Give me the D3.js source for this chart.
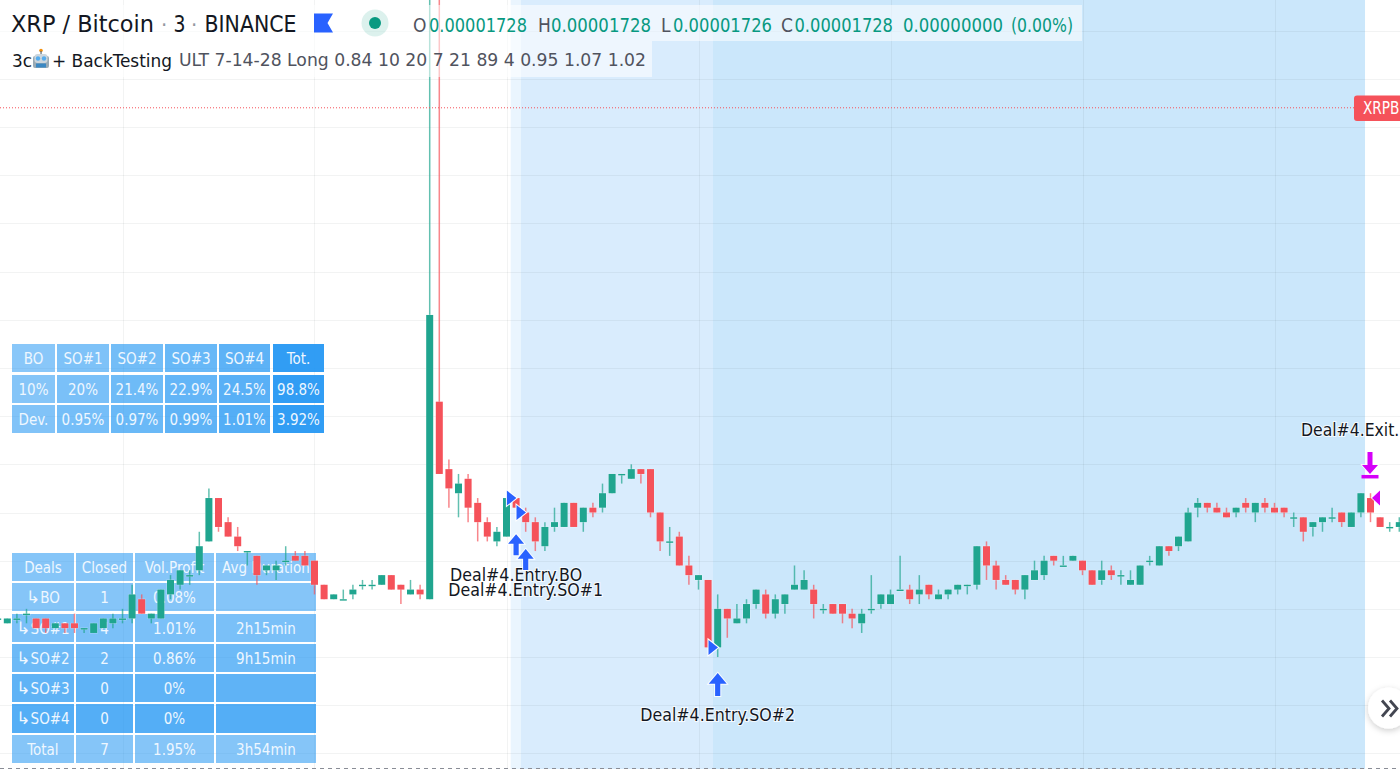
<!DOCTYPE html>
<html lang="en">
<head>
<meta charset="UTF-8">
<title>XRP / Bitcoin 3 BINANCE</title>
<script src="https://d3js.org/d3.v7.min.js"></script>
<style>
  html, body { margin: 0; padding: 0; background: #fff; overflow: hidden; }
  text { font-family: "DejaVu Sans Condensed", "DejaVu Sans", sans-serif; }
</style>
</head>
<body>
<svg id="mainsvg" width="1400" height="770"></svg>
<script>
// prices in satoshi, one entry per 3 minute bar
const opens = [1622,
  1621,1622,1623,1622,1622,1620,1621,1621,1620,1619,
  1620,1621,1622,1622,1626,1622,1622,1627,1629,1631,
  1632,1638,1647,1642,1639,1636,1635,1632,1632,1634,
  1635,1635,1634,1629,1626,1626,1627,1629,1629,1629,
  1631,1629,1627,1628,1626,1667,1653,1648,1651,1646,
  1642,1638,1639,1647,1644,1642,1637,1641,1641,1646,
  1642,1645,1645,1648,1652,1651,1653,1653,1644,1638,
  1639,1633,1630,1630,1616,1624,1621,1622,1625,1627,
  1623,1625,1628,1628,1628,1624,1625,1625,1623,1621,
  1624,1625,1625,1628,1628,1627,1629,1626,1627,1628,
  1629,1629,1637,1633,1630,1630,1628,1630,1631,1635,
  1633,1634,1634,1632,1630,1632,1631,1629,1629,1634,
  1633,1637,1637,1638,1645,1646,1645,1644,1644,1646,
  1644,1646,1645,1645,1643,1643,1641,1642,1643,1644,
  1641,1644,1647,1643,1641,1641];
const highs = [1623,
  1622,1623,1624,1622,1622,1621,1621,1623,1620,1621,
  1622,1623,1624,1629,1627,1623,1628,1631,1632,1632,
  1640,1649,1647,1643,1641,1636,1635,1633,1634,1637,
  1636,1636,1634,1629,1627,1628,1629,1630,1630,1631,
  1631,1629,1630,1629,1755,1755,1655,1652,1652,1647,
  1643,1641,1647,1647,1645,1643,1642,1645,1646,1646,
  1645,1646,1650,1652,1652,1654,1653,1653,1644,1641,
  1640,1635,1631,1630,1627,1624,1625,1626,1628,1628,
  1627,1627,1633,1632,1629,1625,1625,1625,1624,1624,
  1631,1627,1628,1635,1629,1631,1629,1628,1628,1629,
  1629,1637,1638,1634,1631,1630,1631,1634,1635,1635,
  1635,1635,1634,1632,1634,1633,1632,1632,1633,1635,
  1637,1637,1639,1645,1647,1646,1646,1645,1645,1647,
  1646,1647,1646,1645,1644,1643,1642,1643,1645,1644,
  1644,1648,1648,1643,1642,1643];
const lows = [1621,
  1621,1621,1621,1620,1619,1620,1619,1619,1619,1619,
  1620,1620,1621,1621,1623,1621,1622,1626,1628,1629,
  1631,1638,1640,1639,1636,1633,1629,1631,1630,1633,
  1634,1633,1627,1626,1626,1626,1626,1628,1628,1629,
  1628,1625,1627,1626,1626,1652,1645,1643,1642,1638,
  1638,1637,1639,1645,1640,1636,1636,1640,1641,1641,
  1640,1643,1644,1648,1650,1651,1650,1643,1636,1635,
  1633,1629,1628,1616,1614,1618,1621,1621,1624,1622,
  1622,1623,1628,1628,1622,1623,1623,1621,1620,1619,
  1623,1624,1625,1628,1625,1625,1626,1626,1626,1627,
  1627,1628,1630,1628,1629,1627,1626,1630,1630,1633,
  1633,1634,1631,1629,1629,1630,1629,1629,1629,1633,
  1633,1635,1636,1638,1643,1644,1644,1643,1643,1644,
  1642,1644,1644,1643,1641,1638,1639,1640,1642,1641,
  1641,1643,1642,1641,1640,1640];
const closes = [1622,
  1622,1622,1623,1620,1620,1621,1620,1620,1620,1621,
  1622,1622,1622,1627,1623,1623,1628,1630,1632,1631,
  1637,1647,1641,1639,1637,1636,1631,1633,1633,1634,
  1634,1633,1629,1626,1627,1626,1628,1629,1629,1631,
  1628,1628,1628,1627,1685,1652,1649,1650,1645,1642,
  1639,1640,1647,1645,1642,1638,1641,1642,1646,1641,
  1645,1644,1648,1652,1652,1653,1652,1644,1638,1638,
  1633,1631,1631,1616,1624,1622,1622,1625,1628,1623,
  1626,1627,1629,1630,1625,1624,1623,1623,1622,1623,
  1624,1627,1627,1628,1626,1628,1627,1627,1628,1629,
  1629,1637,1633,1630,1629,1628,1631,1632,1634,1634,
  1633,1635,1632,1629,1632,1631,1631,1630,1633,1634,
  1637,1636,1639,1644,1646,1645,1644,1643,1645,1645,
  1646,1645,1644,1644,1643,1640,1642,1643,1643,1642,
  1644,1648,1644,1641,1641,1642];

const lastPrice = 1728;
const priceTicks = d3.range(1594, 1754, 10);
const timeTicks = d3.range(13, 147, 20);

// deal zones, first and last bar
const zoneNames = ['BO', 'SO#1', 'SO#2'];
const zoneStart = [53.44, 54.48, 74.51];
const zoneEnd = [54.48, 74.51, 142.43];

// strategy tables
const sizeHead = ['BO', 'SO#1', 'SO#2', 'SO#3', 'SO#4', 'Tot.'];
const sizeRow1 = ['10%', '20%', '21.4%', '22.9%', '24.5%', '98.8%'];
const sizeRow2 = ['Dev.', '0.95%', '0.97%', '0.99%', '1.01%', '3.92%'];
const dealHead = ['Deals', 'Closed', 'Vol.Profit', 'Avg Duration'];
const dealBO = ['↳BO', '1', '0.08%', ''];
const dealSO1 = ['↳SO#1', '4', '1.01%', '2h15min'];
const dealSO2 = ['↳SO#2', '2', '0.86%', '9h15min'];
const dealSO3 = ['↳SO#3', '0', '0%', ''];
const dealSO4 = ['↳SO#4', '0', '0%', ''];
const dealTotal = ['Total', '7', '1.95%', '3h54min'];

// order marks: bar number and price
const entryBars = [54, 55, 75];
const entryTops = [1639.5, 1636.4, 1610.7];
const entryLabels = ['Deal#4.Entry.BO', 'Deal#4.Entry.SO#1', 'Deal#4.Entry.SO#2'];
const fillBars = [54, 55, 75];
const fillPrices = [1647, 1644, 1616];
const exitBar = 143;
const exitPrice = 1652;
const exitFill = 1647;
const exitLabel = 'Deal#4.Exit.';

const svg = d3.select('#mainsvg');
const width = +svg.attr('width');
const height = +svg.attr('height');
const barCount = opens.length;
const step = 9.6;
const green = '#20a58f';
const red = '#f5525a';

const xScale = d3.scaleLinear().domain([0, barCount - 1]).range([-2.3, -2.3 + (barCount - 1) * step]);
const yScale = d3.scaleLinear().domain([1594, 1744]).range([753.4, 30.7]);

svg.append('rect').attr('width', width).attr('height', height).attr('fill', '#fff');

// zones
const zoneFill = ['#eaf5fe', '#d9ecfd', '#cbe7fb'];
svg.append('g').selectAll('rect').data(zoneNames).join('rect')
  .attr('x', (d, i) => xScale(zoneStart[i]))
  .attr('width', (d, i) => xScale(zoneEnd[i]) - xScale(zoneStart[i]))
  .attr('y', 0).attr('height', 769)
  .attr('fill', (d, i) => zoneFill[i]);

// grid
const grid = svg.append('g').attr('stroke', 'rgba(42,46,57,0.06)').attr('stroke-width', 1);
grid.selectAll('.h').data(priceTicks).join('line').attr('class', 'h')
  .attr('x1', 0).attr('x2', width)
  .attr('y1', d => Math.round(yScale(d)) + 0.5).attr('y2', d => Math.round(yScale(d)) + 0.5);
grid.selectAll('.v').data(timeTicks).join('line').attr('class', 'v')
  .attr('y1', 0).attr('y2', 769)
  .attr('x1', d => Math.round(xScale(d)) + 0.5).attr('x2', d => Math.round(xScale(d)) + 0.5);

// tables sit under the candles
function drawTable(rows, colX, colW, rowY, rowH, alpha) {
  const g = svg.append('g');
  rows.forEach((row, r) => {
    row.forEach((cell, c) => {
      g.append('rect')
        .attr('x', colX[c]).attr('y', rowY[r])
        .attr('width', colW[c]).attr('height', rowH[r])
        .attr('fill', '#2196f3').attr('fill-opacity', alpha(r, c));
      const t = g.append('text')
        .attr('x', colX[c] + colW[c] / 2).attr('y', rowY[r] + rowH[r] / 2 + 5.5)
        .attr('text-anchor', 'middle').attr('font-size', 15)
        .attr('fill', '#eef7ff');
      if (cell[0] === '↳') {
        t.append('tspan').style('font-family', '"DejaVu Sans"').attr('font-size', 17).text('↳');
        t.append('tspan').text(cell.slice(1));
      } else {
        t.text(cell);
      }
    });
  });
}

drawTable([sizeHead, sizeRow1, sizeRow2],
  [12, 57, 111, 165, 219, 273], [43, 52, 52, 52, 51, 51],
  [344, 375, 405], [28, 28, 28],
  (r, c) => c === 5 ? 0.93 : 0.53 + c * 0.05 + r * 0.02);

drawTable([dealHead, dealBO, dealSO1, dealSO2, dealSO3, dealSO4, dealTotal],
  [12, 76, 135, 216], [62, 57, 79, 100],
  [553, 583, 614, 644, 674, 704, 735], [28, 28, 28, 28, 28, 29, 28],
  (r) => [0.55, 0.55, 0.6, 0.66, 0.72, 0.77, 0.55][r]);

// candles
const candles = svg.append('g');
candles.selectAll('line').data(d3.range(barCount)).join('line')
  .attr('x1', i => xScale(i)).attr('x2', i => xScale(i))
  .attr('y1', i => yScale(highs[i])).attr('y2', i => yScale(lows[i]))
  .attr('stroke', i => closes[i] >= opens[i] ? green : red)
  .attr('stroke-width', 1.5).attr('stroke-opacity', 0.7);
candles.selectAll('rect').data(d3.range(barCount)).join('rect')
  .attr('x', i => xScale(i) - 3.5).attr('width', 7)
  .attr('y', i => yScale(Math.max(opens[i], closes[i])))
  .attr('height', i => Math.max(1.4, Math.abs(yScale(opens[i]) - yScale(closes[i]))))
  .attr('fill', i => closes[i] >= opens[i] ? green : red)
  .attr('stroke', '#fff').attr('stroke-width', 1).attr('stroke-opacity', 0.35).attr('paint-order', 'stroke');

// last price line and tag
svg.append('line')
  .attr('x1', 0).attr('x2', 1354)
  .attr('y1', yScale(lastPrice)).attr('y2', yScale(lastPrice))
  .attr('stroke', '#f5525a').attr('stroke-width', 1).attr('stroke-dasharray', '1 2');
svg.append('rect')
  .attr('x', 1354).attr('y', 95.5).attr('width', 60).attr('height', 25.5).attr('rx', 3)
  .attr('fill', '#f5525a');
svg.append('text')
  .attr('x', 1363).attr('y', 114).attr('font-size', 17).attr('fill', '#fff')
  .attr('textLength', 36.5).attr('lengthAdjust', 'spacingAndGlyphs').text('XRPB');

// order marks
const marks = svg.append('g');
function upArrow(x, y, len, head, color) {
  const h = head * 0.6;
  const w = 2.6;
  return marks.append('path')
    .attr('d', `M${x},${y} L${x + head / 2},${y + h} L${x + w},${y + h} L${x + w},${y + len} L${x - w},${y + len} L${x - w},${y + h} L${x - head / 2},${y + h} Z`)
    .attr('fill', color).attr('stroke', '#fff').attr('stroke-width', 2).attr('stroke-opacity', 0.85)
    .attr('paint-order', 'stroke');
}
entryBars.forEach((bar, i) => {
  upArrow(xScale(bar), yScale(entryTops[i]), i === 2 ? 23 : 21, i === 2 ? 18 : 16, '#2962ff');
  marks.append('text')
    .attr('x', xScale(bar)).attr('y', yScale(entryTops[i]) + (i === 2 ? 48 : 47))
    .attr('text-anchor', 'middle').attr('font-size', 17.6).attr('fill', '#131722')
    .attr('stroke', '#fff').attr('stroke-width', 2).attr('stroke-opacity', 0.8).attr('paint-order', 'stroke')
    .text(entryLabels[i]);
});
fillBars.forEach((bar, i) => {
  const x = xScale(bar) + 0.3;
  const y = yScale(fillPrices[i]);
  marks.append('path')
    .attr('d', `M${x},${y} L${x - 9.5},${y - 7.5} L${x - 9.5},${y + 7.5} Z`)
    .attr('fill', '#2962ff').attr('stroke', '#fff').attr('stroke-width', 2).attr('paint-order', 'stroke');
});

// exit mark, pointing down
const exitX = xScale(exitBar) - 0.5;
const exitY = yScale(exitPrice);
marks.append('path')
  .attr('d', `M${exitX},${exitY} L${exitX + 8},${exitY - 9} L${exitX + 2.5},${exitY - 9} L${exitX + 2.5},${exitY - 22} L${exitX - 2.5},${exitY - 22} L${exitX - 2.5},${exitY - 9} L${exitX - 8},${exitY - 9} Z`)
  .attr('fill', '#d500f9').attr('stroke', '#fff').attr('stroke-width', 1.5).attr('paint-order', 'stroke');
marks.append('rect')
  .attr('x', exitX - 8.5).attr('y', exitY + 1).attr('width', 17).attr('height', 3.5).attr('fill', '#d500f9');
marks.append('text')
  .attr('x', 1301).attr('y', exitY - 38).attr('font-size', 17.4).attr('fill', '#131722')
  .attr('stroke', '#fff').attr('stroke-width', 2).attr('stroke-opacity', 0.8).attr('paint-order', 'stroke')
  .text(exitLabel);
const exitFx = xScale(exitBar) + 1.5;
const exitFy = yScale(exitFill);
marks.append('path')
  .attr('d', `M${exitFx},${exitFy} L${exitFx + 8},${exitFy - 7.5} L${exitFx + 8},${exitFy + 7.5} Z`)
  .attr('fill', '#d500f9').attr('stroke', '#fff').attr('stroke-width', 1.5).attr('paint-order', 'stroke');

// legend, over everything
const head = svg.append('g');
head.append('rect').attr('x', 0).attr('y', 5).attr('width', 1082).attr('height', 36).attr('fill', '#fff').attr('fill-opacity', 0.55);
head.append('rect').attr('x', 0).attr('y', 41).attr('width', 652).attr('height', 36).attr('fill', '#fff').attr('fill-opacity', 0.55);

const dark = '#131722';
const gray = '#50535e';
const teal = '#089981';
function label(txt, x, y, size, fill, len) {
  const t = head.append('text').attr('x', x).attr('y', y).attr('font-size', size).attr('fill', fill).text(txt);
  if (len) t.attr('textLength', len).attr('lengthAdjust', 'spacingAndGlyphs');
}
label('XRP / Bitcoin', 11, 32, 22.5, dark, 143);
label('·', 161, 32, 22, '#9598a1');
label('3', 173.5, 32, 22.5, dark, 12);
label('·', 191, 32, 22, '#9598a1');
label('BINANCE', 204.5, 32, 22.5, dark, 92);

head.append('path').attr('d', 'M314,13.5 H333 L327.5,23 L333,32.5 H314 Z').attr('fill', '#2962ff');
head.append('circle').attr('cx', 375).attr('cy', 23).attr('r', 13.5).attr('fill', '#089981').attr('fill-opacity', 0.14);
head.append('circle').attr('cx', 375).attr('cy', 23).attr('r', 6).attr('fill', '#089981');

label('O', 413, 32, 19, gray);
label('0.00001728', 429, 32, 19, teal, 98);
label('H', 538, 32, 19, gray);
label('0.00001728', 551, 32, 19, teal, 100);
label('L', 661, 32, 19, gray);
label('0.00001726', 673, 32, 19, teal, 99);
label('C', 781, 32, 19, gray);
label('0.00001728', 794.5, 32, 19, teal, 98.5);
label('0.00000000', 903, 32, 19, teal, 100);
label('(0.00%)', 1011, 32, 19, teal, 62);

label('3c', 12, 66.5, 18.5, dark, 20);
// robot icon
const bot = head.append('g');
bot.append('circle').attr('cx', 41).attr('cy', 50.5).attr('r', 1.8).attr('fill', '#f4900c');
bot.append('rect').attr('x', 40.4).attr('y', 51).attr('width', 1.3).attr('height', 3).attr('fill', '#66757f');
bot.append('rect').attr('x', 33).attr('y', 56).attr('width', 16).attr('height', 12).attr('rx', 2).attr('fill', '#99aab5');
bot.append('rect').attr('x', 34.5).attr('y', 54).attr('width', 13).attr('height', 9).attr('rx', 3).attr('fill', '#ccd6dd');
bot.append('rect').attr('x', 36).attr('y', 63.5).attr('width', 10).attr('height', 4).attr('fill', '#3b88c3');
bot.append('circle').attr('cx', 38).attr('cy', 58.5).attr('r', 2.2).attr('fill', '#55acee');
bot.append('circle').attr('cx', 44).attr('cy', 58.5).attr('r', 2.2).attr('fill', '#55acee');
label('+ BackTesting', 52, 66.5, 18.5, dark, 120);
label('ULT 7-14-28 Long 0.84 10 20 7 21 89 4 0.95 1.07 1.02', 179, 65.5, 18.5, gray, 467);

// scroll button
const defs = svg.append('defs');
const shadow = defs.append('filter').attr('id', 'btnShadow').attr('x', '-50%').attr('y', '-50%').attr('width', '200%').attr('height', '200%');
shadow.append('feDropShadow').attr('dx', 0).attr('dy', 2).attr('stdDeviation', 3).attr('flood-color', '#000').attr('flood-opacity', 0.2);
svg.append('circle').attr('cx', 1388.5).attr('cy', 708).attr('r', 20.5).attr('fill', '#fff').attr('filter', 'url(#btnShadow)');
svg.append('path').attr('d', 'M1382,700.5 L1389,708.5 L1382,716.5 M1390,700.5 L1397,708.5 L1390,716.5')
  .attr('fill', 'none').attr('stroke', '#434651').attr('stroke-width', 2.8);

// bottom pane border
svg.append('line').attr('x1', 0).attr('x2', width).attr('y1', 768.5).attr('y2', 768.5)
  .attr('stroke', '#8a8d96').attr('stroke-width', 1).attr('stroke-dasharray', '4 4');
</script>
</body>
</html>
